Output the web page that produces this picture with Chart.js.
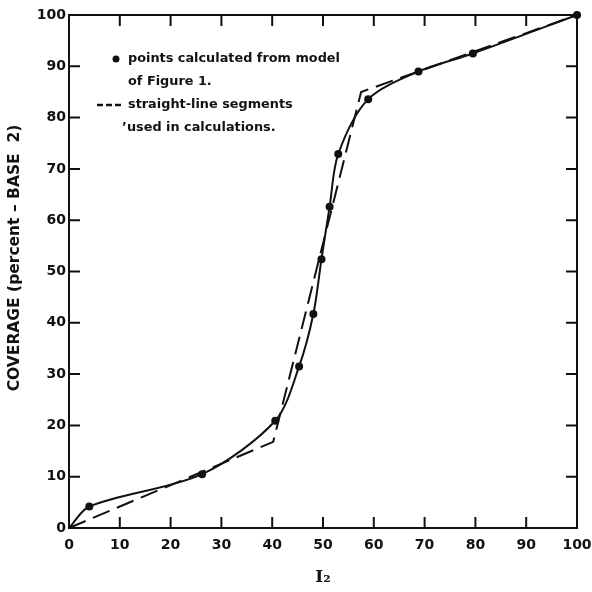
<!DOCTYPE html>
<html>
<head>
<meta charset="utf-8">
<script src="https://cdn.jsdelivr.net/npm/chart.js@4.4.1/dist/chart.umd.min.js"></script>
<style>
  html, body { margin: 0; padding: 0; background: #fff; }
  #chart { display: block; }
</style>
</head>
<body>
<canvas id="chart" width="592" height="592"></canvas>
<script>
// solid curve: points calculated from model (first point is the origin, no dot)
var modelX = [0, 4, 26.2, 40.6, 45.3, 48.1, 49.7, 51.3, 53, 58.9, 68.8, 79.5, 100];
var modelY = [0, 4.2, 10.5, 20.9, 31.5, 41.7, 52.4, 62.6, 72.9, 83.6, 89, 92.5, 100];

// dashed straight-line segments
var segX = [0, 40.2, 57.5, 100];
var segY = [0, 16.8, 85, 100];

var tickValues = [0, 10, 20, 30, 40, 50, 60, 70, 80, 90, 100];

var legendLines = [
  'points calculated from model',
  'of Figure 1.',
  'straight-line segments',
  '\u2019used in calculations.'
];

function toPoints(xs, ys) {
  var pts = [];
  for (var i = 0; i < xs.length; i++) pts.push({x: xs[i], y: ys[i]});
  return pts;
}

var FONT = '"DejaVu Sans", sans-serif';

// frame, inward ticks and the text key
var framePlugin = {
  id: 'frame',
  afterDraw: function(chart) {
    var ctx = chart.ctx;
    var a = chart.chartArea;
    var xs = chart.scales.x, ys = chart.scales.y;
    ctx.save();
    ctx.strokeStyle = '#111';
    ctx.lineWidth = 2;
    ctx.strokeRect(a.left, a.top, a.right - a.left, a.bottom - a.top);
    var len = 11;
    ctx.beginPath();
    for (var i = 1; i < tickValues.length - 1; i++) {
      var px = xs.getPixelForValue(tickValues[i]);
      var py = ys.getPixelForValue(tickValues[i]);
      ctx.moveTo(px, a.bottom); ctx.lineTo(px, a.bottom - len);
      ctx.moveTo(px, a.top); ctx.lineTo(px, a.top + len);
      ctx.moveTo(a.left, py); ctx.lineTo(a.left + len, py);
      ctx.moveTo(a.right, py); ctx.lineTo(a.right - len, py);
    }
    ctx.stroke();

    // key text, sized so the first line spans about 212px like the original
    ctx.fillStyle = '#111';
    ctx.font = 'bold 14px ' + FONT;
    var size = 14 * 212 / ctx.measureText(legendLines[0]).width;
    ctx.font = 'bold ' + size.toFixed(2) + 'px ' + FONT;
    ctx.textBaseline = 'middle';
    ctx.textAlign = 'left';
    var tx = 128;
    var rows = [59, 82, 105, 128];
    ctx.beginPath();
    ctx.arc(116, rows[0], 3.5, 0, Math.PI * 2);
    ctx.fill();
    ctx.fillText(legendLines[0], tx, rows[0]);
    ctx.fillText(legendLines[1], tx, rows[1]);
    ctx.fillText(legendLines[2], tx, rows[2]);
    ctx.fillText(legendLines[3], tx - 6, rows[3]);
    ctx.lineWidth = 2.5;
    ctx.setLineDash([6, 3]);
    ctx.beginPath();
    ctx.moveTo(97, rows[2]); ctx.lineTo(123, rows[2]);
    ctx.stroke();
    ctx.restore();
  }
};

var chart = new Chart(document.getElementById('chart'), {
  type: 'scatter',
  data: {
    datasets: [{
      label: 'model',
      data: toPoints(modelX, modelY),
      showLine: true,
      tension: 0.3,
      borderColor: '#111',
      backgroundColor: '#111',
      borderWidth: 2,
      pointRadius: modelX.map(function(v, i) { return i === 0 ? 0 : 4; }),
      pointBorderWidth: 0,
      clip: false
    }, {
      label: 'segments',
      data: toPoints(segX, segY),
      showLine: true,
      borderColor: '#111',
      borderWidth: 2,
      borderDash: [18, 8],
      pointRadius: 0,
      clip: false
    }]
  },
  options: {
    responsive: false,
    animation: false,
    layout: { padding: { top: 15, right: 15, left: 0, bottom: 0 } },
    plugins: {
      legend: { display: false },
      tooltip: { enabled: false }
    },
    scales: {
      x: {
        type: 'linear',
        min: 0, max: 100,
        afterFit: function(s) { s.height = 64; s.paddingLeft = 0; s.paddingRight = 0; },
        afterBuildTicks: function(s) { s.ticks = tickValues.map(function(v) { return {value: v}; }); },
        grid: { display: false, drawTicks: false },
        border: { display: false },
        ticks: { color: '#111', padding: 9, maxRotation: 0, font: { family: FONT, size: 14, weight: 'bold' } },
        title: {
          display: true,
          text: 'I\u2082',
          color: '#111',
          padding: { top: 4, bottom: 4 },
          font: { family: '"DejaVu Serif", serif', size: 17, weight: 'bold' }
        }
      },
      y: {
        type: 'linear',
        min: 0, max: 100,
        afterFit: function(s) { s.width = 69; s.paddingTop = 0; s.paddingBottom = 0; },
        afterBuildTicks: function(s) { s.ticks = tickValues.map(function(v) { return {value: v}; }); },
        grid: { display: false, drawTicks: false },
        border: { display: false },
        ticks: { color: '#111', padding: 3, font: { family: FONT, size: 14, weight: 'bold' } },
        title: {
          display: true,
          text: '     COVERAGE (percent \u2013 BASE  2)',
          color: '#111',
          padding: { top: 6, bottom: 4 },
          font: { family: FONT, size: 15.5, weight: 'bold' }
        }
      }
    }
  },
  plugins: [framePlugin]
});
</script>
</body>
</html>
